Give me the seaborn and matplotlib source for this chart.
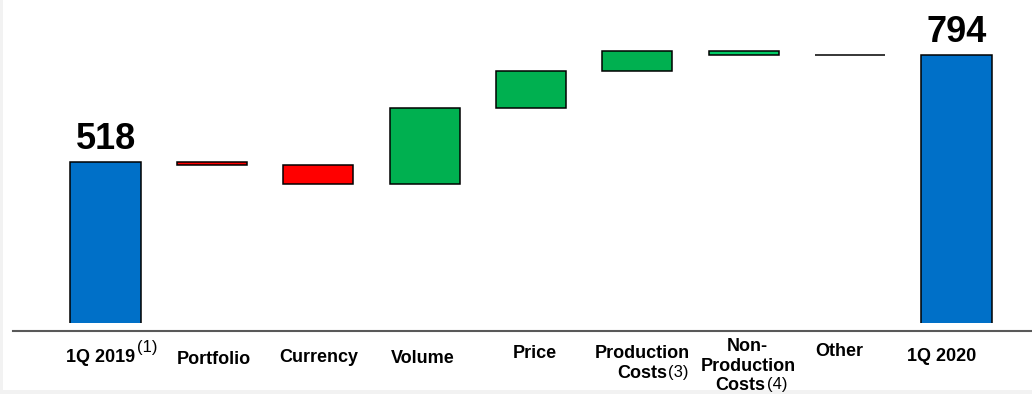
import matplotlib
matplotlib.use("Agg")
import matplotlib.pyplot as plt
import matplotlib.transforms as mtransforms
from matplotlib.patches import Rectangle
import seaborn as sns
import pandas as pd

# data
categories = ["1Q 2019", "Portfolio", "Currency", "Volume", "Price",
              "Production Costs", "Non-Production Costs", "Other", "1Q 2020"]
start_total = 518
changes = [-9, -48, 196, 96, 50, -9, 0]
end_total = 794
bar_colors = ["#0070C8", "#FF0000", "#FF0000", "#00B050", "#00B050",
              "#00B050", "#00CC66", "#000000", "#0070C8"]

# waterfall: floating bars start where the previous one ended
bottoms = [0]
heights = [start_total]
level = start_total
for c in changes:
    bottoms.append(level)
    heights.append(c)
    level += c
bottoms.append(0)
heights.append(end_total)

df = pd.DataFrame({"category": categories, "height": heights})

sns.set_style("white")
plt.rcParams["font.family"] = ["Liberation Sans", "DejaVu Sans"]
plt.rcParams["text.color"] = "black"

W, H = 1032, 394
fig = plt.figure(figsize=(W / 100, H / 100), dpi=100, facecolor="white")
# light grey frame edges (left and bottom)
for rect in [(0, 0, 3 / W, 1), (0, 0, 1, 4 / H)]:
    fig.patches.append(Rectangle(rect[:2], rect[2], rect[3],
                                 transform=fig.transFigure, facecolor="#F2F2F2",
                                 edgecolor="none", zorder=-1))
ax = fig.add_axes([13 / W, (H - 323) / H, (W - 13) / W, 323 / H])
ax.set_facecolor("none")

sns.barplot(data=df, x="category", y="height", order=categories, ax=ax,
            width=0.66, bottom=bottoms, color="#0070C8",
            edgecolor="black", linewidth=1.1)
for patch, col in zip(ax.patches, bar_colors):
    patch.set_facecolor(col)

ax.set_xlim(-0.87, 8.71)
ax.set_ylim(100.5, 935.5)

# totals above the end bars
for i, v in [(0, start_total), (len(categories) - 1, end_total)]:
    ax.annotate(f"{v}", (i, v), xytext=(0, 9), textcoords="offset points",
                ha="center", va="baseline", fontsize=26, fontweight="bold",
                color="black")

for s in ["top", "left", "right"]:
    ax.spines[s].set_visible(False)
ax.spines["bottom"].set_position(("outward", 6))
ax.spines["bottom"].set_color("#595959")
ax.spines["bottom"].set_linewidth(1.5)
ax.set_xticks([])
ax.set_yticks([])
ax.set_xlabel("")
ax.set_ylabel("")

# category labels, placed by hand like the slide
tr = mtransforms.blended_transform_factory(fig.transFigure, fig.transFigure)


def lab(x_px, y_px, s, ha="center", bold=True, size=13):
    fig.text(x_px / W, 1 - y_px / H, s, transform=tr, ha=ha, va="baseline",
             fontsize=size, fontweight="bold" if bold else "normal",
             color="black")


lab(135, 362, "1Q 2019", ha="right")
lab(137, 352, "(1)", ha="left", bold=False, size=12)
lab(214, 364, "Portfolio")
lab(319, 362, "Currency")
lab(423, 363, "Volume")
lab(535, 358, "Price")
lab(642, 358, "Production")
lab(667, 378, "Costs", ha="right")
lab(668, 377, "(3)", ha="left", bold=False, size=12)
lab(747, 351, "Non-")
lab(748, 371, "Production")
lab(765, 390, "Costs", ha="right")
lab(767, 389, "(4)", ha="left", bold=False, size=12)
lab(839, 356, "Other")
lab(942, 361, "1Q 2020")

fig.savefig("out.png", dpi=100, facecolor=fig.get_facecolor())
